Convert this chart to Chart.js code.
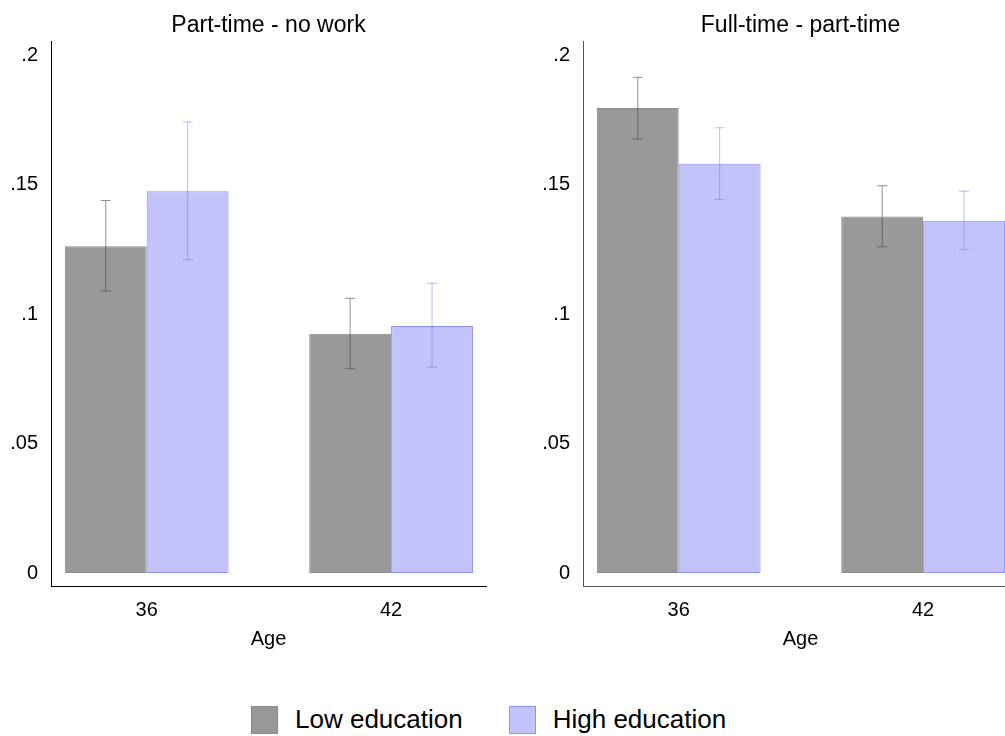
<!DOCTYPE html>
<html>
<head>
<meta charset="utf-8">
<script src="https://cdn.jsdelivr.net/npm/chart.js@4/dist/chart.umd.min.js"></script>
<style>
  html, body { margin: 0; padding: 0; background: #fff; overflow: hidden; }
  body { width: 1005px; height: 736px; position: relative; font-family: "Liberation Sans", Arial, sans-serif; }
  #c1 { position: absolute; left: 0; top: 0; }
  #c2 { position: absolute; left: 520px; top: 0; }
  #legend { position: absolute; left: 251px; top: 704px; display: flex; align-items: center; font-size: 26px; color: #000; }
  .box { width: 25px; height: 26px; border: 1px solid; margin-right: 17px; }
  .item { display: flex; align-items: center; margin-right: 46px; }
</style>
</head>
<body>
<canvas id="c1" width="510" height="670"></canvas>
<canvas id="c2" width="510" height="670"></canvas>
<div id="legend"></div>
<script>
/** data */
const ages = [36, 42];
const yTicks = [0, 0.05, 0.1, 0.15, 0.2];
const seriesNames = ["Low education", "High education"];

// Part-time - no work
const ptLow = [0.1263, 0.0925];
const ptLowLo = [0.109, 0.079];
const ptLowHi = [0.144, 0.1062];
const ptHigh = [0.1476, 0.0955];
const ptHighLo = [0.1211, 0.0795];
const ptHighHi = [0.1743, 0.112];

// Full-time - part-time
const ftLow = [0.1797, 0.1378];
const ftLowLo = [0.1678, 0.1261];
const ftLowHi = [0.1916, 0.1497];
const ftHigh = [0.1582, 0.1362];
const ftHighLo = [0.1444, 0.125];
const ftHighHi = [0.1721, 0.1476];

/** styles */
const fills = ["#999999", "#c3c3fb"];
const borders = ["#8a8a8a", "#8f8ff5"];
const errColors = ["rgba(70,70,70,0.6)", "rgba(100,100,250,0.45)"];
const font = "'Liberation Sans', Arial, sans-serif";

Chart.defaults.font.family = font;
Chart.defaults.color = "#000";

// draws the confidence intervals on top of the bars
const errorBars = {
  id: "errorBars",
  afterDatasetsDraw(chart) {
    const ctx = chart.ctx;
    const y = chart.scales.y;
    chart.data.datasets.forEach((ds, i) => {
      const meta = chart.getDatasetMeta(i);
      meta.data.forEach((bar, j) => {
        const top = y.getPixelForValue(ds.errHi[j]);
        const bot = y.getPixelForValue(ds.errLo[j]);
        ctx.save();
        ctx.strokeStyle = ds.errColor;
        ctx.lineWidth = 1;
        ctx.beginPath();
        ctx.moveTo(bar.x, top);
        ctx.lineTo(bar.x, bot);
        ctx.moveTo(bar.x - 5, top);
        ctx.lineTo(bar.x + 5, top);
        ctx.moveTo(bar.x - 5, bot);
        ctx.lineTo(bar.x + 5, bot);
        ctx.stroke();
        ctx.restore();
      });
    });
  },
};

function makeDataset(k, vals, lo, hi) {
  return {
    label: seriesNames[k],
    data: vals.map((v, i) => ({ x: ages[i], y: v })),
    backgroundColor: fills[k],
    borderColor: borders[k],
    borderWidth: 1,
    borderSkipped: false,
    categoryPercentage: 0.67,
    barPercentage: 1,
    errLo: lo,
    errHi: hi,
    errColor: errColors[k],
  };
}

function makeChart(id, title, low, lowLo, lowHi, high, highLo, highHi, yWidth, padRight, axisColor) {
  return new Chart(document.getElementById(id).getContext("2d"), {
    type: "bar",
    data: {
      datasets: [
        makeDataset(0, low, lowLo, lowHi),
        makeDataset(1, high, highLo, highHi),
      ],
    },
    plugins: [errorBars],
    options: {
      responsive: false,
      animation: false,
      devicePixelRatio: 1,
      layout: { padding: { left: 0, right: padRight, top: 0, bottom: 0 } },
      plugins: {
        legend: { display: false },
        tooltip: { enabled: false },
        title: {
          display: true,
          text: title,
          fullSize: false,
          color: "#000",
          font: { size: 23, weight: "normal" },
          padding: { top: 12, bottom: 2 },
        },
      },
      scales: {
        x: {
          type: "linear",
          offset: false,
          min: 33.65,
          max: 44.33,
          grid: { display: false, drawTicks: false, offset: false },
          border: { display: true, color: axisColor, width: 1 },
          afterBuildTicks: (s) => { s.ticks = ages.map((v) => ({ value: v })); },
          afterFit: (s) => { s.height = 84; },
          ticks: { padding: 12, font: { size: 20 }, color: "#000", callback: (v) => String(v) },
          title: { display: true, text: "Age", font: { size: 20 }, color: "#000", padding: { top: 0, bottom: 19 } },
        },
        y: {
          min: -0.005,
          max: 0.2054,
          grid: { display: false, drawTicks: false },
          border: { display: true, color: axisColor, width: 1 },
          afterBuildTicks: (s) => { s.ticks = yTicks.map((v) => ({ value: v })); },
          afterFit: (s) => { s.width = yWidth; },
          ticks: {
            padding: 13,
            font: { size: 20 },
            color: "#000",
            callback: (v) => (v === 0 ? "0" : String(v).replace(/^0/, "")),
          },
        },
      },
    },
  });
}

let chart1 = makeChart("c1", "Part-time - no work", ptLow, ptLowLo, ptLowHi, ptHigh, ptHighLo, ptHighHi, 51, 24, "#000");
let chart2 = makeChart("c2", "Full-time - part-time", ftLow, ftLowLo, ftLowHi, ftHigh, ftHighLo, ftHighHi, 63, 12, "#555");

/** legend */
const legend = document.getElementById("legend");
seriesNames.forEach((name, k) => {
  const item = document.createElement("div");
  item.className = "item";
  const box = document.createElement("div");
  box.className = "box";
  box.style.background = fills[k];
  box.style.borderColor = borders[k];
  const txt = document.createElement("span");
  txt.textContent = name;
  item.appendChild(box);
  item.appendChild(txt);
  legend.appendChild(item);
});
</script>
</body>
</html>
